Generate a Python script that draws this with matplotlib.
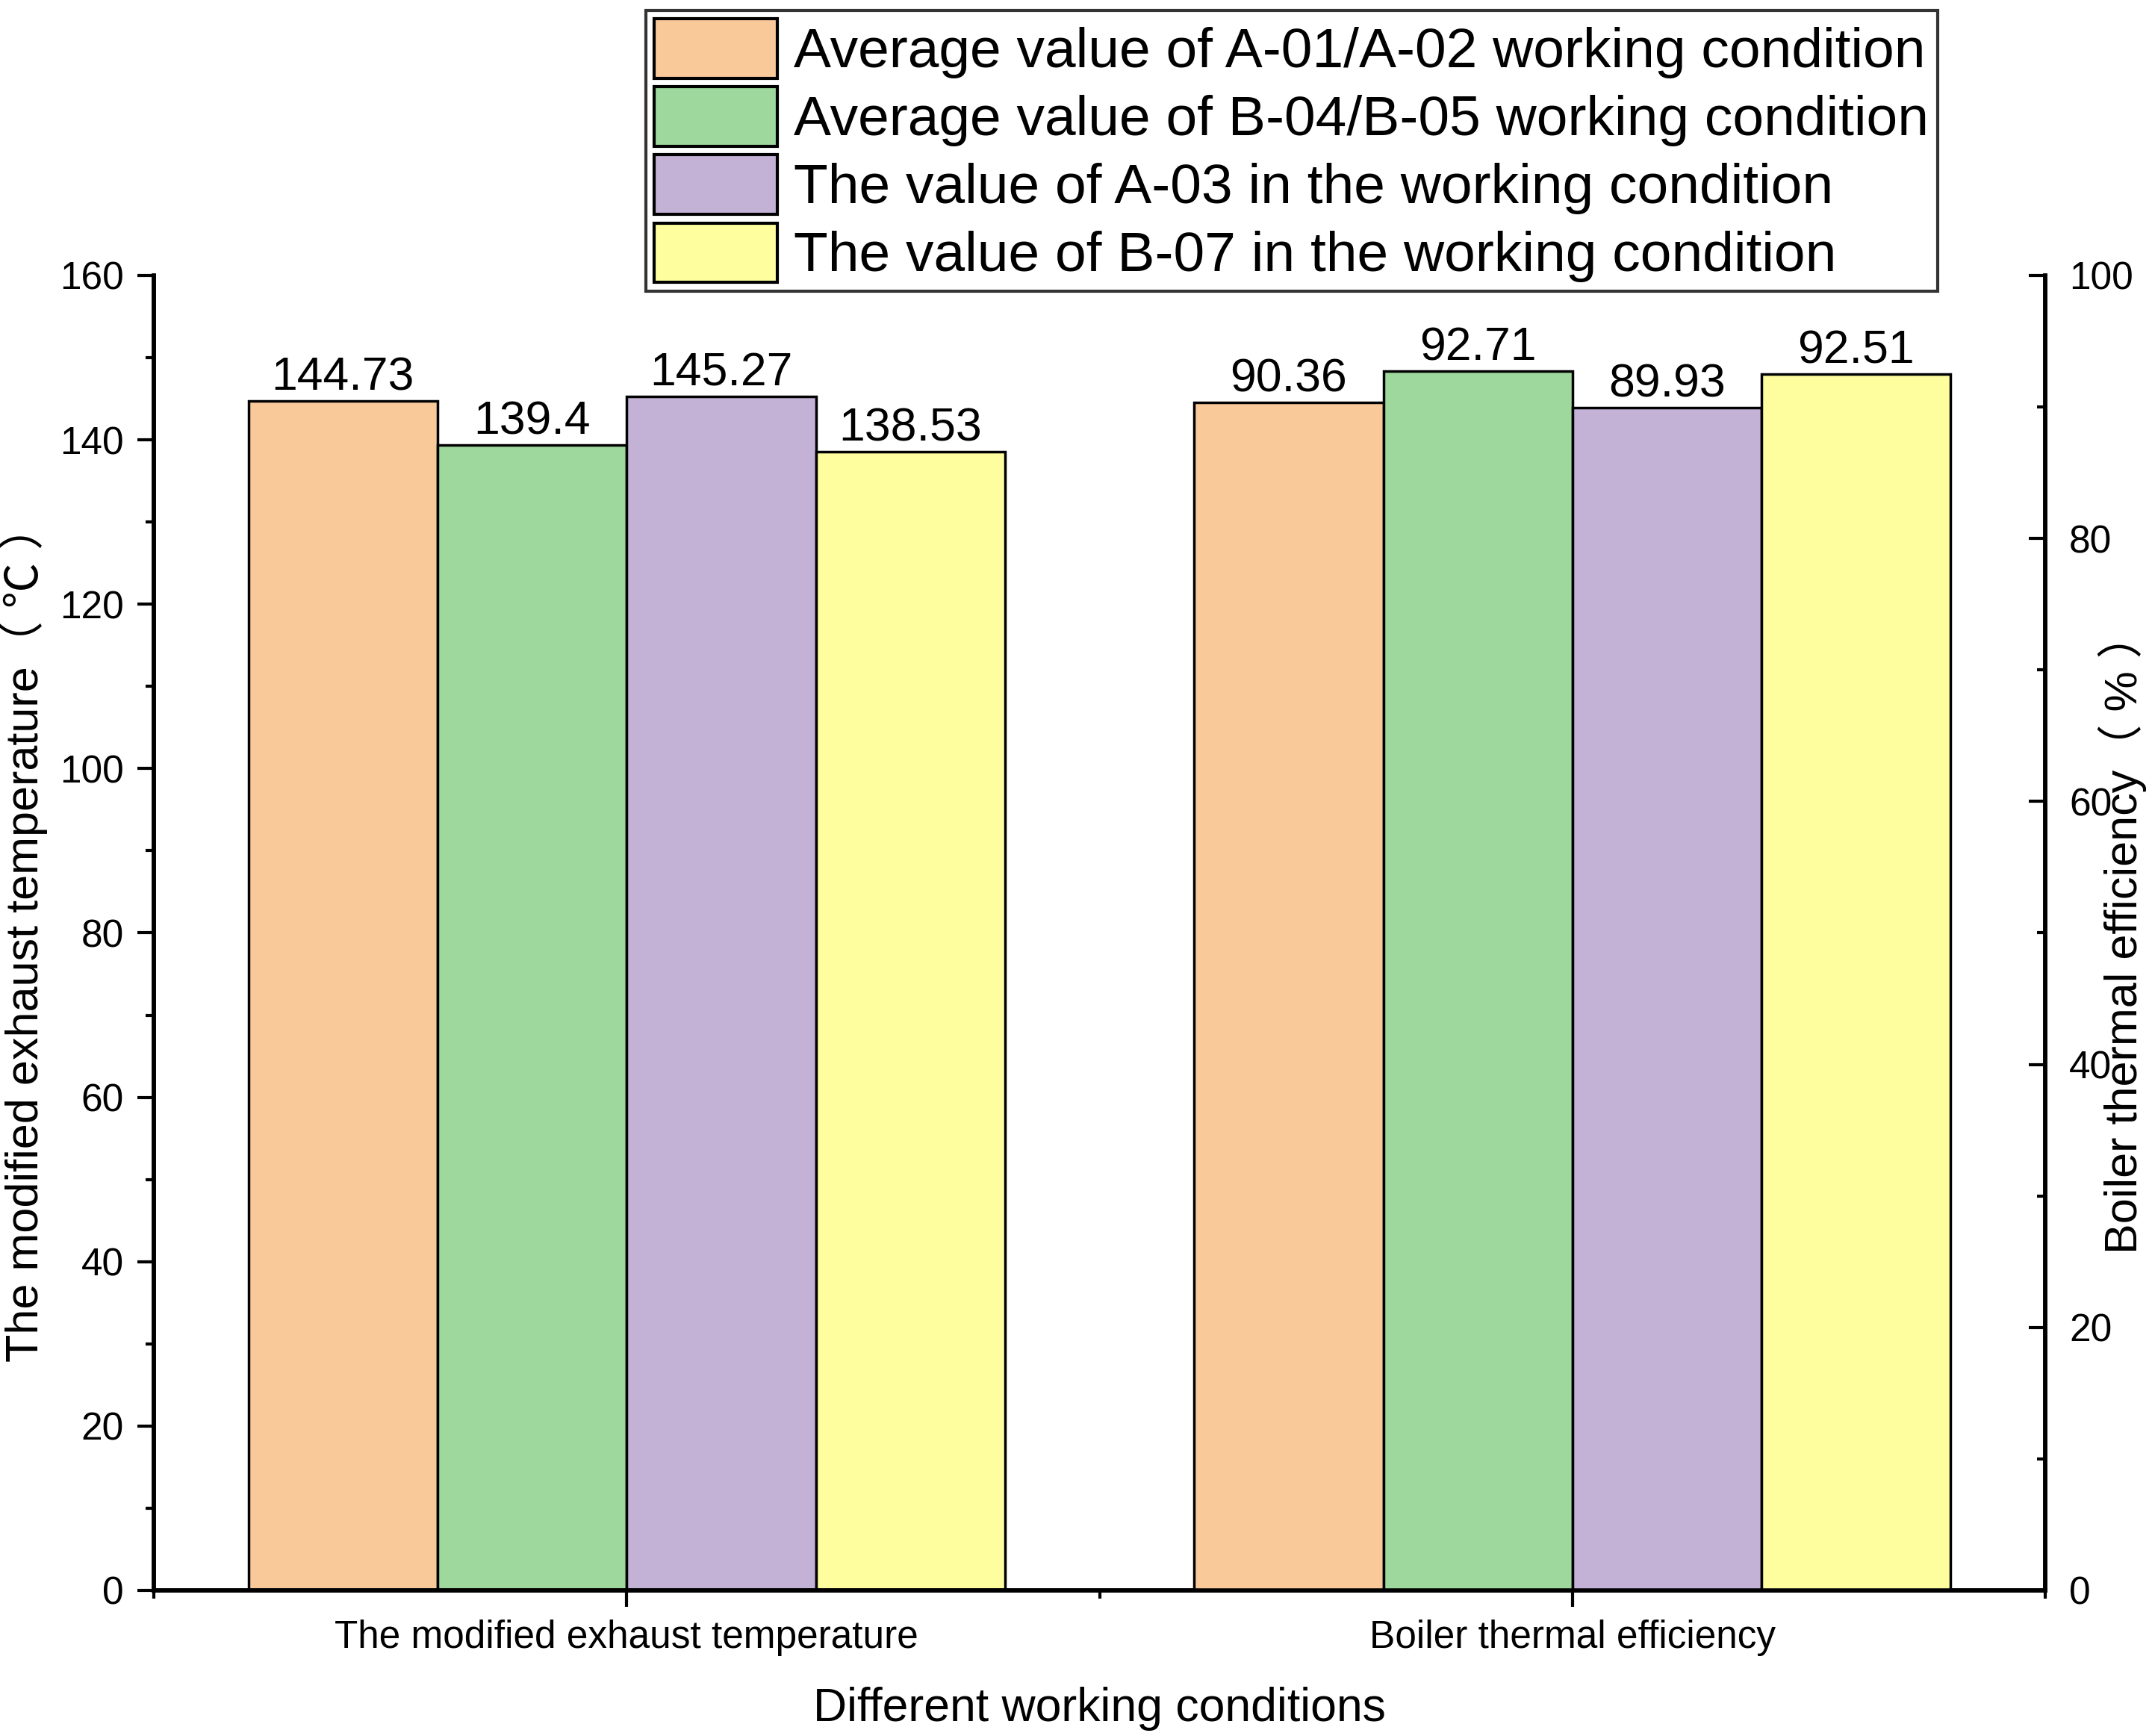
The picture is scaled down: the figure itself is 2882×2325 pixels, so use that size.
import numpy as np
import matplotlib
matplotlib.use("Agg")
from matplotlib import pyplot as plt
from matplotlib.ticker import MultipleLocator, FixedLocator

plt.rcParams['font.family'] = ['Liberation Sans', 'Noto Sans CJK SC', 'DejaVu Sans']

categories = ['The modified exhaust temperature', 'Boiler thermal efficiency']
series_names = ['Average value of A-01/A-02 working condition',
                'Average value of B-04/B-05 working condition',
                'The value of A-03 in the working condition',
                'The value of B-07 in the working condition']
temperature = [144.73, 139.4, 145.27, 138.53]
efficiency = [90.36, 92.71, 89.93, 92.51]
colors = ['#FAC99A', '#9ED89C', '#C3B1D6', '#FFFE9F']

bar_width = 0.2
offsets = (np.arange(4) - 1.5) * bar_width

fig = plt.figure(figsize=(28.82, 23.25), dpi=100)
ax = fig.add_axes([0.0715, 0.0839, 0.8789, 0.7574])
ax2 = ax.twinx()

bars = []
for i in range(4):
    b1 = ax.bar(1 + offsets[i], temperature[i], bar_width, color=colors[i],
                edgecolor='black', linewidth=2.5)
    b2 = ax2.bar(2 + offsets[i], efficiency[i], bar_width, color=colors[i],
                 edgecolor='black', linewidth=2.5)
    ax.bar_label(b1, labels=['%g' % temperature[i]], fontsize=45, padding=1)
    ax2.bar_label(b2, labels=['%g' % efficiency[i]], fontsize=45, padding=1)
    bars.append(b1)

ax.set_xlim(0.5, 2.5)
ax.set_ylim(0, 160)
ax2.set_ylim(0, 100)

ax.xaxis.set_major_locator(FixedLocator([1, 2]))
ax.xaxis.set_minor_locator(FixedLocator([0.5, 1.5, 2.5]))
ax.set_xticklabels(categories, fontsize=37)
ax.yaxis.set_major_locator(MultipleLocator(20))
ax.yaxis.set_minor_locator(MultipleLocator(10))
ax2.yaxis.set_major_locator(MultipleLocator(20))
ax2.yaxis.set_minor_locator(MultipleLocator(10))

ax.tick_params(axis='both', which='major', length=16, width=3, labelsize=37, pad=13)
ax.tick_params(axis='both', which='minor', length=8, width=3)
ax.tick_params(axis='x', which='major', labelsize=37, pad=12)
ax2.tick_params(axis='y', which='major', direction='in', length=16, width=3,
                labelsize=37, pad=23)
ax2.tick_params(axis='y', which='minor', direction='in', length=8, width=3)

for a in (ax, ax2):
    a.spines['top'].set_visible(False)
    for s in ('left', 'right', 'bottom'):
        a.spines[s].set_linewidth(4)

ax.set_ylabel('The modified exhaust temperature（ ℃ ）', fontsize=44)
ax.yaxis.set_label_coords(-0.056, 0.5)
ax2.set_ylabel('Boiler thermal efficiency（ % ）', fontsize=44)
ax2.yaxis.set_label_coords(1.028, 0.5)
ax.set_xlabel('Different working conditions', fontsize=45, labelpad=30)

leg = fig.legend(bars, series_names, loc='upper left',
                 bbox_to_anchor=(0.300, 0.994), fontsize=54,
                 frameon=True, fancybox=False, edgecolor='black',
                 handlelength=2.2, handleheight=1.25, labelspacing=0.15,
                 handletextpad=0.3, borderpad=0.15, borderaxespad=0)
leg.get_frame().set_linewidth(3)
for h in leg.legend_handles:
    h.set_linewidth(3)

fig.savefig('out.png', dpi=100)
